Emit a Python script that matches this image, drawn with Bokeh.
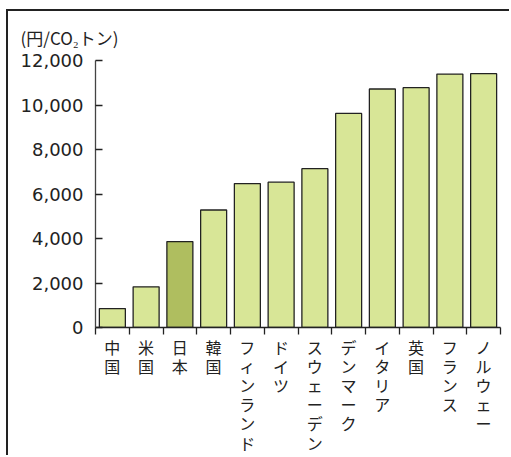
from bokeh.plotting import figure
from bokeh.models import Range1d, LinearAxis, FixedTicker, Title, NumeralTickFormatter, ColumnDataSource
from bokeh.embed import file_html
from bokeh.resources import INLINE

categories = ["中国", "米国", "日本", "韓国", "フィンランド", "ドイツ", "スウェーデン",
              "デンマーク", "イタリア", "英国", "フランス", "ノルウェー"]
values = [850, 1830, 3860, 5280, 6470, 6530, 7140, 9620, 10720, 10780, 11390, 11410]
highlight = "日本"
y_ticks = [0, 2000, 4000, 6000, 8000, 10000, 12000]
unit_label = "(円/CO₂トン)"

JP = "Noto Sans CJK JP"
n = len(categories)
centers = [i + 0.5 for i in range(n)]
bounds = list(range(n + 1))
colors = ["#afbe5f" if c == highlight else "#d8e697" for c in categories]
src = ColumnDataSource(dict(x=centers, top=values, cat=categories, color=colors))

p = figure(width=503, height=446,
           x_range=Range1d(0, n),
           y_range=Range1d(0, 12000),
           output_backend="svg", toolbar_location=None,
           x_axis_location=None, y_axis_location=None,
           min_border_left=87, min_border_right=11, min_border_top=49, min_border_bottom=129)
p.outline_line_color = None
p.xgrid.visible = False
p.ygrid.visible = False
p.styles = {"border-top": "2px solid #222", "border-left": "2px solid #222",
            "margin-left": "6px", "margin-top": "9px"}

p.vbar(x="x", top="top", width=0.77, fill_color="color", source=src,
       line_color="#222222", line_width=1.3)

yax = LinearAxis(ticker=FixedTicker(ticks=y_ticks),
                 formatter=NumeralTickFormatter(format="0,0"),
                 major_tick_in=7, major_tick_out=0,
                 minor_tick_line_color=None,
                 axis_line_color="#444444", axis_line_width=1.3,
                 major_tick_line_color="#222222", major_tick_line_width=1.3,
                 major_label_standoff=12,
                 major_label_text_font="DejaVu Sans",
                 major_label_text_font_size="18px",
                 major_label_text_color="#222222")
p.add_layout(yax, "left")

tick_axis = LinearAxis(ticker=FixedTicker(ticks=bounds),
                       major_tick_in=0, major_tick_out=7,
                       minor_tick_line_color=None,
                       axis_line_color="#222222", axis_line_width=1.3,
                       major_tick_line_color="#222222", major_tick_line_width=1.3,
                       major_label_standoff=0,
                       major_label_overrides={b: "" for b in bounds},
                       major_label_text_font_size="1px")
p.add_layout(tick_axis, "below")

label_axis = LinearAxis(ticker=FixedTicker(ticks=centers),
                        axis_line_color=None, major_tick_line_color=None,
                        minor_tick_line_color=None,
                        major_tick_in=0, major_tick_out=0,
                        major_label_standoff=0,
                        major_label_overrides={x: "\n".join(c) for x, c in zip(centers, categories)},
                        major_label_text_font=JP,
                        major_label_text_font_size="16px",
                        major_label_text_line_height=0.8,
                        major_label_text_color="#222222")
p.add_layout(label_axis, "below")

p.title = Title(text=unit_label, align="left", offset=-75, standoff=21,
                text_font=JP, text_font_size="17px", text_font_style="normal",
                text_color="#222222")

open("out.html", "w").write(file_html(p, INLINE))
